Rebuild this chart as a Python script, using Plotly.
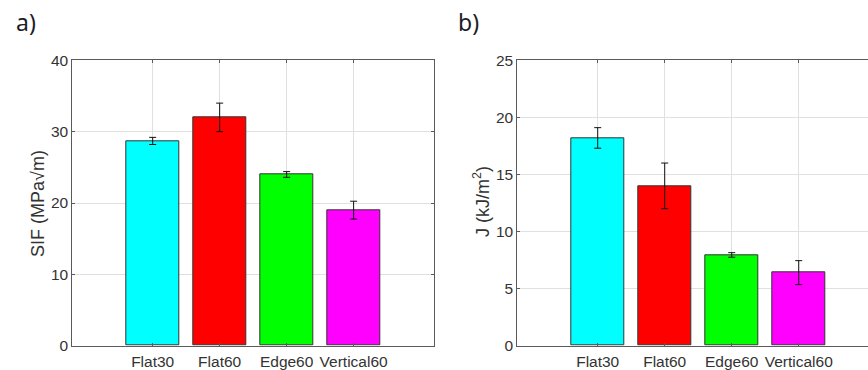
import plotly.graph_objects as go

# Specimen groups and measured results (mean ± error)
categories = ["Flat30", "Flat60", "Edge60", "Vertical60"]
sif_mean = [28.7, 32.0, 24.0, 19.0]
sif_err = [0.5, 2.0, 0.4, 1.25]
j_mean = [18.2, 14.0, 7.95, 6.4]
j_err = [0.9, 2.0, 0.2, 1.05]
bar_colors = ["#00FFFF", "#FF0000", "#00FF00", "#FF00FF"]
positions = [1, 2, 3, 4]

FONT = "Liberation Sans, Arial, sans-serif"
TXT = "#333333"
AX = "#5a5a5a"
GRID = "#e0e0e0"

fig = go.Figure()

def add_bars(vals, errs, xa, ya):
    fig.add_trace(go.Bar(
        x=positions, y=vals, width=0.8,
        marker=dict(color=bar_colors, line=dict(color="#333333", width=1)),
        error_y=dict(type="data", array=errs, visible=True,
                     color="#111111", thickness=1, width=3.5),
        xaxis=xa, yaxis=ya, showlegend=False,
    ))

add_bars(sif_mean, sif_err, "x", "y")
add_bars(j_mean, j_err, "x2", "y2")

xcommon = dict(
    tickmode="array", tickvals=positions, ticktext=categories,
    showgrid=True, gridcolor=GRID, gridwidth=1,
    showline=True, linecolor=AX, linewidth=1,
    ticks="inside", ticklen=3, tickcolor=AX, ticklabelstandoff=2,
    tickfont=dict(family=FONT, size=15.5, color=TXT),
    zeroline=False, fixedrange=True, automargin=False,
)
ycommon = dict(
    showgrid=True, gridcolor=GRID, gridwidth=1,
    showline=True, linecolor=AX, linewidth=1,
    ticks="inside", ticklen=3, tickcolor=AX,
    tickfont=dict(family=FONT, size=15.5, color=TXT),
    zeroline=False, fixedrange=True, automargin=False,
)

y_dom = [1 - 345.7 / 370, 1 - 60.3 / 370]

fig.update_layout(
    width=868, height=370,
    margin=dict(l=0, r=0, t=0, b=0, pad=0, autoexpand=False),
    paper_bgcolor="white", plot_bgcolor="white",
    bargap=0,
    xaxis=dict(xcommon, domain=[72.3 / 868, 434 / 868], range=[-0.2, 5.2],
               mirror="ticks", anchor="y"),
    yaxis=dict(ycommon, domain=y_dom, range=[0, 40], tickvals=[0, 10, 20, 30, 40],
               mirror="ticks", anchor="x"),
    xaxis2=dict(xcommon, domain=[517.3 / 868, 1.0], range=[-0.2, 5.034],
                mirror="ticks", anchor="y2"),
    yaxis2=dict(ycommon, domain=y_dom, range=[0, 25], tickvals=[0, 5, 10, 15, 20, 25],
                mirror=False, anchor="x2"),
)

annotations = [
    dict(text="a)", x=14 / 868, y=1 - 22 / 370, xanchor="left", yanchor="middle",
         font=dict(family="Noto Sans, sans-serif", size=23, color="#1c1c28")),
    dict(text="b)", x=456 / 868, y=1 - 22 / 370, xanchor="left", yanchor="middle",
         font=dict(family="Noto Sans, sans-serif", size=23, color="#1c1c28")),
    dict(text="SIF (MPa√m)", x=38 / 868, y=1 - 204 / 370, textangle=-90,
         xanchor="center", yanchor="middle",
         font=dict(family=FONT, size=18, color=TXT)),
    dict(text="J (kJ/m<sup>2</sup>)", x=481 / 868, y=1 - 202 / 370, textangle=-90,
         xanchor="center", yanchor="middle",
         font=dict(family=FONT, size=18, color=TXT)),
]
for a in annotations:
    a.update(xref="paper", yref="paper", showarrow=False)
fig.update_layout(annotations=annotations)

fig.write_html("out.html")
